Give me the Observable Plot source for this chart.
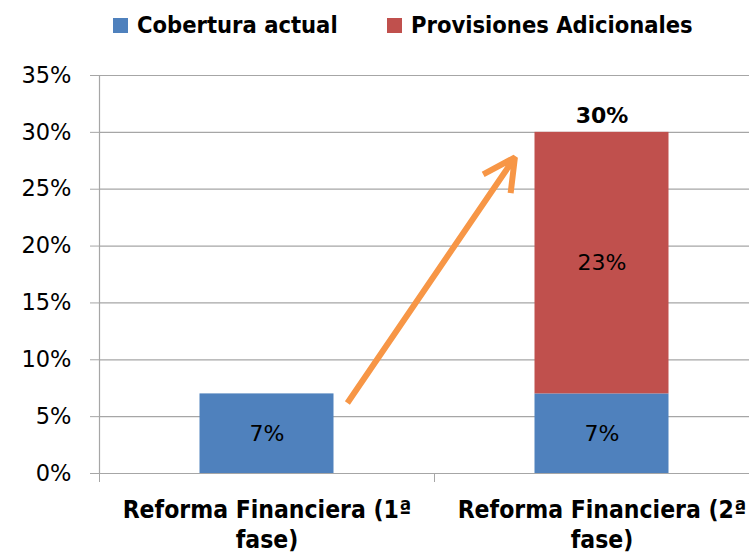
<!DOCTYPE html>
<html>
<head>
<meta charset="utf-8">
<script src="https://cdn.jsdelivr.net/npm/d3@7"></script>
<script src="https://cdn.jsdelivr.net/npm/@observablehq/plot@0.6"></script>
<style>
  html, body { margin: 0; padding: 0; background: #fff; overflow: hidden; }
  #legend { position: relative; height: 50px; width: 749px;
    font-family: "Liberation Sans Narrow", "DejaVu Sans Condensed", sans-serif;
    font-weight: bold; font-size: 23.5px; color: #000; }
  .sw { position: absolute; top: 18px; width: 15px; height: 15px; }
  .lt { position: absolute; top: 10px; line-height: 30px; white-space: nowrap; }
  #chart svg { display: block; }
</style>
</head>
<body>
<div id="legend"></div>
<div id="chart"></div>
<script>
const categories = ["Reforma Financiera (1ª\nfase)", "Reforma Financiera (2ª\nfase)"];
const seriesNames = ["Cobertura actual", "Provisiones Adicionales"];
const seriesColors = ["#4F81BD", "#C0504D"];
const cobertura = [7, 7];
const provisiones = [null, 23];
const totals = [null, 30];
const yTicks = [0, 5, 10, 15, 20, 25, 30, 35];
const arrowFrom = [0.74, 6.2];
const arrowTo = [1.24, 27.8];

// Legend (HTML above the SVG)
const legend = document.getElementById("legend");
const legendPos = [[113, 137], [387, 411]];
seriesNames.forEach((name, k) => {
  const sw = document.createElement("div");
  sw.className = "sw";
  sw.style.left = legendPos[k][0] + "px";
  sw.style.background = seriesColors[k];
  legend.appendChild(sw);
  const t = document.createElement("div");
  t.className = "lt";
  t.style.left = legendPos[k][1] + "px";
  t.textContent = name;
  legend.appendChild(t);
});

// Build stacked segments
const bars = [];
const seriesValues = [cobertura, provisiones];
categories.forEach((c, i) => {
  let base = 0;
  seriesNames.forEach((s, k) => {
    const v = seriesValues[k][i];
    if (v) { bars.push({i, s, y1: base, y2: base + v, v}); base += v; }
  });
});
const totalRows = totals.map((t, i) => ({i, t})).filter(d => d.t != null);

const gray = "#A6A6A6";
const chart = Plot.plot({
  width: 749,
  height: 510,
  marginLeft: 99,
  marginRight: 0,
  marginTop: 25,
  marginBottom: 87,
  style: {fontFamily: "DejaVu Sans", background: "#fff", color: "#000"},
  x: {domain: [0, categories.length], range: [99, 769], axis: null},
  y: {domain: [0, 35], axis: null},
  color: {domain: seriesNames, range: seriesColors},
  marks: [
    Plot.gridY(yTicks, {stroke: gray, strokeOpacity: 1, strokeWidth: 1.2}),
    Plot.axisY(yTicks, {tickSize: 9, tickPadding: 19, stroke: gray, strokeOpacity: 1,
      tickFormat: d => d + "%", fontSize: 22.5, fill: "#000"}),
    Plot.ruleX([0], {stroke: gray, strokeWidth: 1.2}),
    Plot.axisX(d3.range(categories.length + 1), {tickSize: 9, tickFormat: () => "",
      stroke: gray, strokeOpacity: 1}),
    Plot.axisX(categories.map((c, i) => i + 0.5), {tickSize: 0, tickPadding: 23,
      tickFormat: d => categories[Math.round(d - 0.5)], fontSize: 24.5, fontWeight: "bold",
      fontFamily: "Liberation Sans Narrow, DejaVu Sans Condensed, sans-serif",
      lineHeight: 1.24, fill: "#000"}),
    Plot.rectY(bars, {x1: d => d.i + 0.3, x2: d => d.i + 0.7, y1: "y1", y2: "y2", fill: "s"}),
    Plot.ruleY([0], {stroke: gray, strokeWidth: 1.2}),
    Plot.text(bars, {x: d => d.i + 0.5, y: d => (d.y1 + d.y2) / 2, text: d => d.v + "%",
      fontSize: 22, fill: "#000"}),
    Plot.text(totalRows, {x: d => d.i + 0.5, y: "t", text: d => d.t + "%", dy: -16,
      fontSize: 22, fontWeight: "bold", fill: "#000"}),
    Plot.arrow([{a: arrowFrom, b: arrowTo}], {x1: d => d.a[0], y1: d => d.a[1],
      x2: d => d.b[0], y2: d => d.b[1], stroke: "#F79646", strokeWidth: 6,
      headLength: 9, headAngle: 55, strokeLinecap: "butt"})
  ]
});
document.getElementById("chart").appendChild(chart);
</script>
</body>
</html>
